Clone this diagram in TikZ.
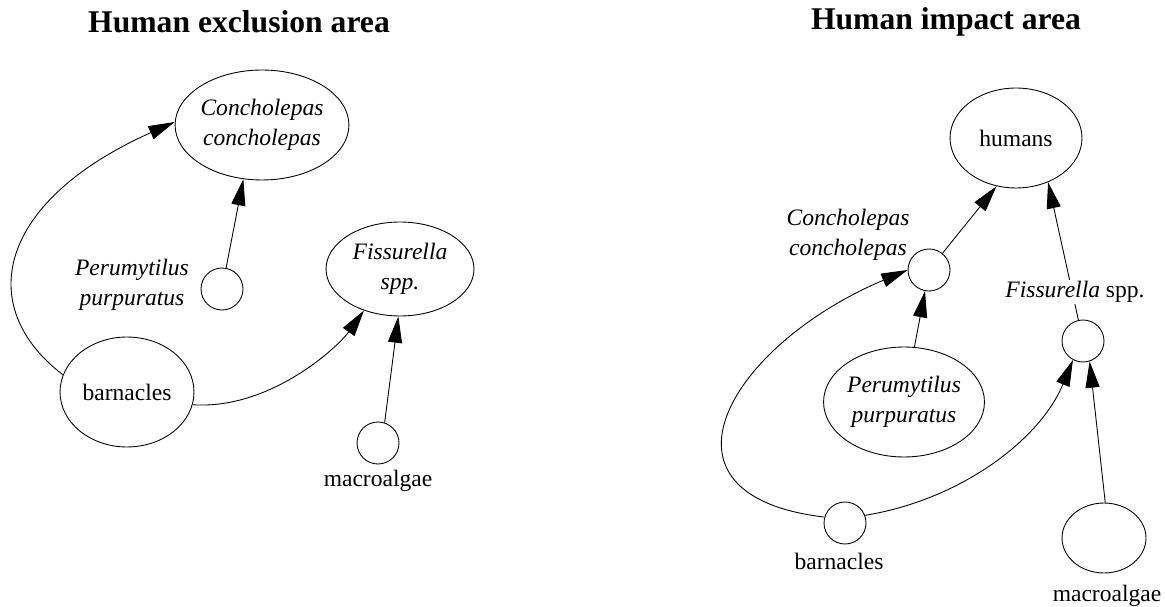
\documentclass[tikz,border=0pt]{standalone}
\usepackage{fontspec}
\setmainfont{Liberation Serif}
\usetikzlibrary{shapes.geometric,arrows.meta}
\begin{document}
\begin{tikzpicture}[x=0.02cm,y=-0.02cm,
  every node/.style={font=\fontsize{13.4}{17}\selectfont, inner sep=0pt, align=center},
  it/.style={font=\fontsize{13.4}{17}\selectfont\itshape},
  ell/.style 2 args={draw, ellipse, minimum width=#1*0.04cm, minimum height=#2*0.04cm, line width=0.5pt},
  dot/.style={draw, circle, minimum size=0.84cm, line width=0.5pt},
  ttl/.style={font=\fontsize{18}{22}\selectfont\bfseries},
  edge/.style={line width=0.5pt, -{Triangle[length=15pt,width=8pt]}}
]
\useasboundingbox (0,0) rectangle (1165,607);

% titles
\node[ttl] (t1) at (239,22) {Human exclusion area};
\node[ttl] (t2) at (946,22) {Human impact area};

% left panel
\node[ell={74}{55}, it] (cc1) at (262,125) {Concholepas\\concholepas};
\node[dot] (pp1) at (222,289) {};
\node[it] (pp1l) at (132,285) {Perumytilus\\purpuratus};
\node[ell={67}{55}] (b1) at (127,392) {barnacles};
\node[ell={74}{47}, it] (f1) at (400,269) {Fissurella\\spp.};
\node[dot] (m1) at (378,443) {};
\node (m1l) at (378,481) {macroalgae};

\draw[edge] (b1.165) .. controls (-28,305) and (0,200) .. (cc1.178);
\draw[edge] (b1.-11) .. controls (270,410) and (338,347) .. (f1.-131);
\draw[edge] (pp1.79) -- (cc1.-109);
\draw[edge] (m1.72) -- (f1.-92);

% right panel
\node[ell={66}{50}] (h2) at (1016,138) {humans};
\node[dot] (cc2) at (929,270) {};
\node[it] (cc2l) at (848,235) {Concholepas\\concholepas};
\node[dot] (f2) at (1083,341) {};
\node[ell={67}{55}, it] (pp2) at (904,402) {Perumytilus\\purpuratus};
\node[dot] (b2) at (845,523) {};
\node (b2l) at (839,561) {barnacles};
\node[ell={42}{35}] (m2) at (1104,538) {};
\node (m2l) at (1107,596) {macroalgae};

\draw[edge] (cc2) -- (h2.-112);
\draw[edge] (f2) -- (h2.-54);
\draw[edge] (pp2) -- (cc2);
\draw[edge] (b2.164) .. controls (640,495) and (730,345) .. (cc2.180);
\draw[edge] (b2.21) .. controls (960,500) and (1040,440) .. (f2.-118);
\draw[edge] (m2.88) -- (f2.-72);

\node[fill=white, inner ysep=1pt] (f2l) at (1075,292) {\textit{Fissurella} spp.};
\end{tikzpicture}
\end{document}
